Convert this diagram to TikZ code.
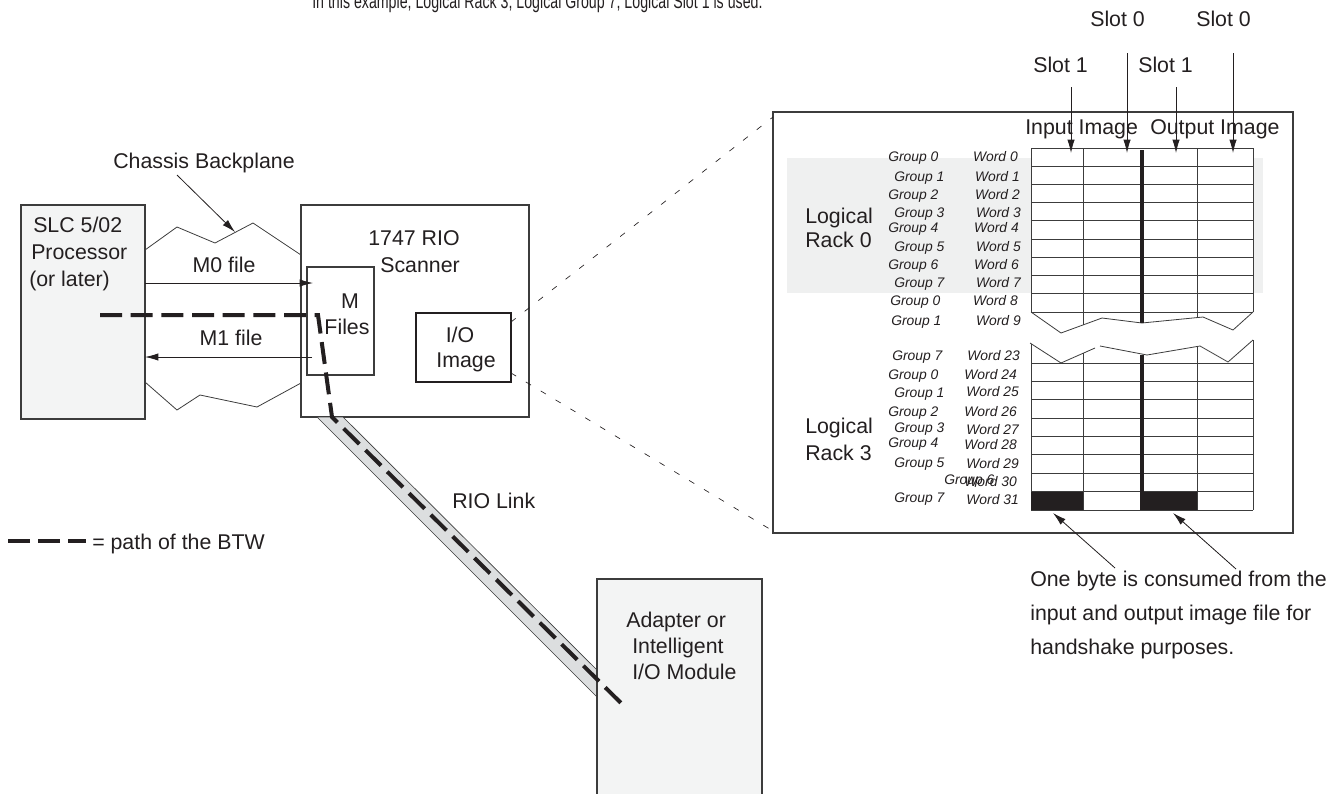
\documentclass[tikz,border=0pt]{standalone}
\usepackage{fontspec}
\setmainfont{Liberation Sans}
\newfontfamily\capfont{Liberation Sans}[FakeStretch=0.7]
\usetikzlibrary{arrows.meta}
\definecolor{boxfill}{HTML}{F3F4F4}
\definecolor{bandfill}{HTML}{DCDEDF}
\definecolor{shadefill}{HTML}{EFF0F0}
\definecolor{strk}{HTML}{3C3C3C}
\definecolor{txt}{HTML}{231F20}
\begin{document}
\begin{tikzpicture}[x=0.75pt,y=-0.75pt,
  lbl/.style={font=\fontsize{16}{20}\selectfont, inner sep=0, text=txt, anchor=base west},
  lblc/.style={font=\fontsize{16}{20}\selectfont, inner sep=0, text=txt, anchor=base},
  captxt/.style={font=\capfont\fontsize{15.2}{18}\selectfont, inner sep=0, text=txt, anchor=base west},
  grp/.style={font=\fontsize{10.4}{12}\selectfont\itshape, inner sep=0, text=txt, anchor=base west},
  wrd/.style={font=\fontsize{10.4}{12}\selectfont\itshape, inner sep=0, text=txt, anchor=base east},
  rbox/.style args={#1/#2}{minimum width=#1*0.75pt, minimum height=#2*0.75pt, inner sep=0, outer sep=0, anchor=north west, draw=strk, line width=0.8pt},
  thinln/.style={draw=strk, line width=0.6pt},
  gridln/.style={draw=strk, line width=0.6pt},
  arr/.style={-{Latex[length=10pt,width=5.5pt]}, line width=0.6pt, draw=txt},
  zoomln/.style={draw=txt, line width=0.5pt, dash pattern=on 4.5pt off 8.5pt},
  btw/.style={draw=txt, line width=3pt, dash pattern=on 16.5pt off 6.5pt}
]
\useasboundingbox (0,0) rectangle (1339,793);
\clip (0,0) rectangle (1339,793);

% caption
\node[captxt] (caption) at (312,8) {In this example, Logical Rack 3, Logical Group 7, Logical Slot 1 is used.};

% SLC processor
\node[rbox=124/214, fill=boxfill] (slc) at (21,205) {};
\node[lbl] (slc1) at (33,232) {SLC 5/02};
\node[lbl] (slc2) at (31,259) {Processor};
\node[lbl] (slc3) at (29,286) {(or later)};

% chassis backplane
\draw[thinln] (145,250) -- (177,227) -- (215,243) -- (253,223) -- (301,255);
\draw[thinln] (145,382) -- (177,410) -- (200,395) -- (257,407) -- (301,383);
\node[lbl] (chassis) at (113,168) {Chassis Backplane};
\coordinate (chtip) at (235,232);
\draw[arr] (177,175) -- (chtip);

% scanner
\node[rbox=228/212, fill=white] (scan) at (301,205) {};
\node[lblc] (scan1) at (414,245) {1747 RIO};
\node[lblc] (scan2) at (420,272) {Scanner};
\node[rbox=67/108, fill=white] (mfiles) at (307,267) {};
\node[lblc] (mf1) at (350,308) {M};
\node[lblc] (mf2) at (347,334) {Files};
\node[rbox=95/69, fill=white, line width=1.6pt, draw=txt] (ioimg) at (416,313) {};
\node[lblc] (io1) at (460,342) {I/O};
\node[lblc] (io2) at (466,367) {Image};

% M0 / M1 arrows
\coordinate (m0s) at (145,283);
\coordinate (m0e) at (313,283);
\coordinate (m1s) at (312,357);
\coordinate (m1e) at (145,357);
\draw[arr] (m0s) -- (m0e);
\draw[arr] (m1s) -- (m1e);
\node[lblc] (m0lbl) at (224,272) {M0 file};
\node[lblc] (m1lbl) at (231,345) {M1 file};

% RIO link band
\filldraw[fill=bandfill, draw=strk, line width=0.5pt] (317,417) -- (343,417) -- (597,670) -- (597,697) -- cycle;
\node[lbl] (riolbl) at (452,508) {RIO Link};

% adapter
\node[rbox=165/230, fill=boxfill] (adapter) at (597,579) {};
\node[lbl] (ad1) at (626,627) {Adapter or};
\node[lbl] (ad2) at (632,653) {Intelligent};
\node[lbl] (ad3) at (632,679) {I/O Module};

% BTW path
\draw[btw] (100,315) -- (318,315) -- (332,417) -- (623,705);

% legend
\coordinate (lg1) at (8,541);
\coordinate (lg2) at (86,541);
\draw[btw, dash pattern=on 16.5pt off 6pt] (lg1) -- (lg2);
\node[lbl] (legend) at (92,549) {= path of the BTW};

% table box
\node[rbox=520/421, fill=white] (tbl) at (773,112) {};
\fill[shadefill] (787,158) rectangle (1263,293);

% zoom lines
\coordinate (z1) at (511,322);
\coordinate (z2) at (773,117);
\coordinate (z3) at (511,373);
\coordinate (z4) at (773,531);
\draw[zoomln] (z1) -- (z2);
\draw[zoomln] (z3) -- (z4);

% upper grid
\fill[white] (1031,148) rectangle (1253,312);
\foreach \k in {0,...,9} \draw[gridln] (1031,{148+\k*18.222}) -- (1253,{148+\k*18.222});
\draw[gridln] (1031,148) -- (1031,312);
\draw[gridln] (1253,148) -- (1253,312);
\draw[gridln] (1083,148) -- (1083,325);
\draw[gridln] (1197,148) -- (1197,317.6);
\draw[gridln] (1031,312) -- (1061,333) -- (1102,318) -- (1142,323) -- (1203,317) -- (1233,330) -- (1253,312);
% lower grid
\draw[gridln] (1030,343) -- (1061,363) -- (1095,348);
\draw[gridln] (1100,346) -- (1147,355) -- (1200,346) -- (1228,362) -- (1253,340);
\foreach \k in {0,...,8} \draw[gridln] (1031,{363+\k*18.375}) -- (1253,{363+\k*18.375});
\draw[gridln] (1031,344) -- (1031,510);
\draw[gridln] (1083,353) -- (1083,510);
\draw[gridln] (1197,346.5) -- (1197,510);
\draw[gridln] (1253,340) -- (1253,510);
\fill[txt] (1031,491.6) rectangle (1083,510);
\fill[txt] (1142,491.6) rectangle (1197,510);
\draw[txt, line width=2.6pt] (1142,150) -- (1142,323);
\draw[txt, line width=2.6pt] (1142,355) -- (1142,510);

% rack labels
\node[lbl] (lr0a) at (805,223) {Logical};
\node[lbl] (lr0b) at (805,247) {Rack 0};
\node[lbl] (lr3a) at (805,433) {Logical};
\node[lbl] (lr3b) at (805,460) {Rack 3};

% group labels
\foreach \x/\y/\t [count=\i] in {888/161/Group 0,894/181/Group 1,888/199/Group 2,894/217/Group 3,888/232/Group 4,894/251/Group 5,888/269/Group 6,894/287/Group 7,890/305/Group 0,891/325/Group 1,892/360/Group 7,888/379/Group 0,894/397/Group 1,888/416/Group 2,894/432/Group 3,888/447/Group 4,894/467/Group 5,944/484/Group 6,894/502/Group 7}
  \node[grp] (grp\i) at (\x,\y) {\t};
\foreach \x/\y/\t [count=\i] in {1018/161/Word 0,1020/181/Word 1,1020/199/Word 2,1021/217/Word 3,1019/232/Word 4,1021/251/Word 5,1019/269/Word 6,1021/287/Word 7,1018/305/Word 8,1021/325/Word 9,1020/360/Word 23,1017/379/Word 24,1019/396/Word 25,1017/416/Word 26,1019/434/Word 27,1017/449/Word 28,1019/468/Word 29,1017/486/Word 30,1019/504/Word 31}
  \node[wrd] (wrd\i) at (\x,\y) {\t};

% slot labels and arrows
\node[lbl] (s0a) at (1090,26) {Slot 0};
\node[lbl] (s0b) at (1196,26) {Slot 0};
\node[lbl] (s1a) at (1033,72) {Slot 1};
\node[lbl] (s1b) at (1138,72) {Slot 1};
\node[lbl] (inimg) at (1025,134) {Input Image};
\node[lbl] (outimg) at (1150,134) {Output Image};
\coordinate (t1) at (1071,153);
\coordinate (t2) at (1127,153);
\coordinate (t3) at (1176,153);
\coordinate (t4) at (1233,153);
\draw[arr] (1071,87) -- (t1);
\draw[arr] (1127,53) -- (t2);
\draw[arr] (1176,87) -- (t3);
\draw[arr] (1233,53) -- (t4);

% handshake note
\coordinate (h1) at (1053,513);
\coordinate (h2) at (1173,513);
\draw[arr] (1115,568) -- (h1);
\draw[arr] (1236,569) -- (h2);
\node[lbl] (note1) at (1030,586) {One byte is consumed from the};
\node[lbl] (note2) at (1030,620) {input and output image file for};
\node[lbl] (note3) at (1030,654) {handshake purposes.};
\end{tikzpicture}
\end{document}
